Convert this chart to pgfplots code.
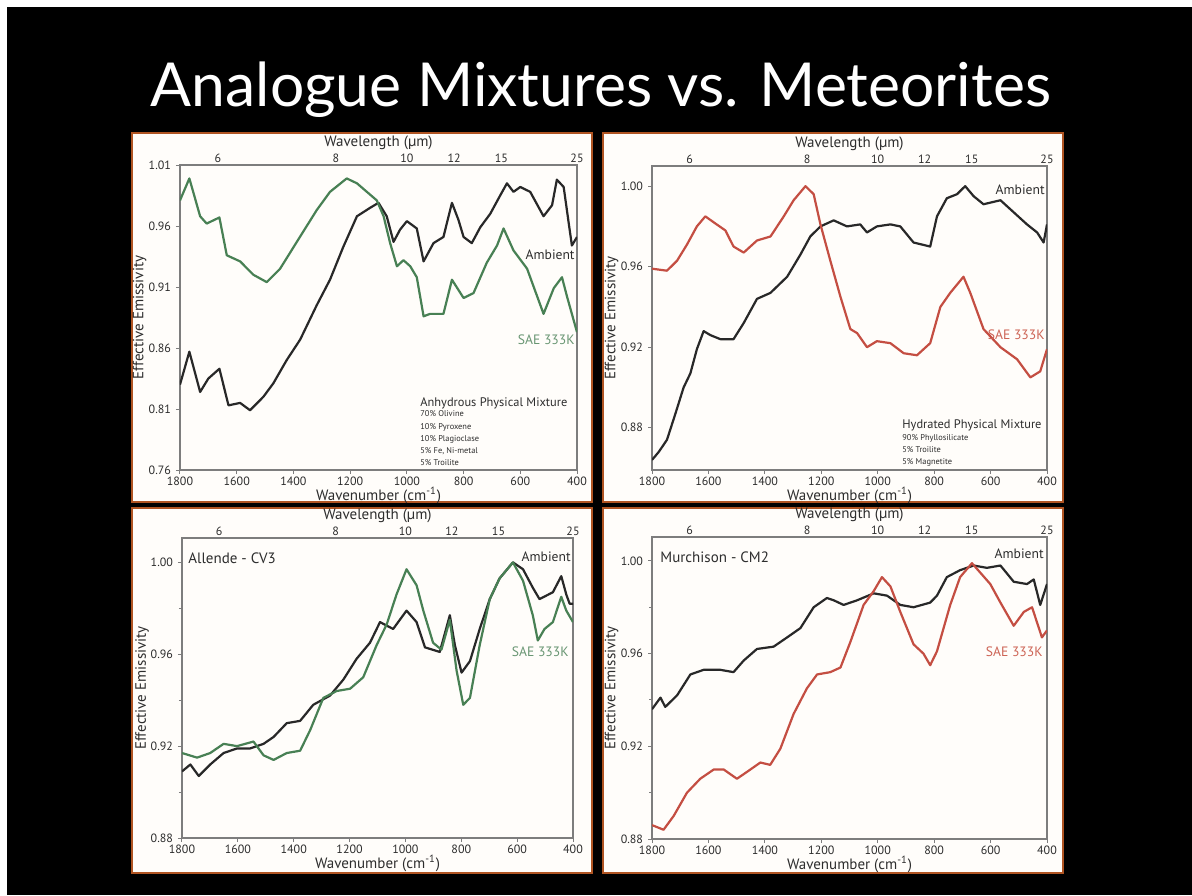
\documentclass[border=0pt]{standalone}
\usepackage{pgfplots}
\pgfplotsset{compat=1.18}
\usepackage{fontspec}
\setmainfont{PT Sans}
\newfontfamily\titlefont{Lato}
\definecolor{bord}{RGB}{176,84,34}
\definecolor{dk}{RGB}{40,40,40}
\definecolor{gr}{RGB}{72,128,84}
\definecolor{grl}{RGB}{105,150,115}
\definecolor{rd}{RGB}{196,78,66}
\definecolor{rdl}{RGB}{205,100,85}
\definecolor{axc}{RGB}{125,125,125}
\definecolor{txt}{RGB}{45,45,45}
\definecolor{paper}{RGB}{255,253,250}
\pgfplotsset{
 panel/.style={scale only axis, x dir=reverse, xmin=400, xmax=1800,
  xtick={400,600,...,1800}, xtick pos=lower, ytick pos=left,
  tick align=outside, major tick length=2pt, minor tick length=1.5pt,
  axis line style={axc, line width=0.6pt}, tick style={axc, line width=0.5pt},
  ticklabel style={font=\fontsize{6}{6.5}\selectfont, text=txt},
  /pgf/number format/assume math mode=true,
  xticklabel style={/pgf/number format/1000 sep={}, yshift=2pt},
  yticklabel style={/pgf/number format/fixed, /pgf/number format/fixed zerofill, /pgf/number format/precision=2, xshift=1pt},
  xlabel={Wavenumber (cm\textsuperscript{-1})}, ylabel={Effective Emissivity},
  every axis x label/.style={at={(axis description cs:0.5,0)}, anchor=center, yshift=-12.5pt, font=\fontsize{7.5}{8}\selectfont, text=txt},
  every axis y label/.style={at={(axis description cs:-0.102,0.5)}, anchor=center, rotate=90, font=\fontsize{7.5}{8}\selectfont, text=txt},
  every axis plot/.append style={line width=1.1pt, line join=round},
 },
 topax/.style={scale only axis, x dir=reverse, xmin=400, xmax=1800, ymin=0, ymax=1,
  axis x line*=top, axis y line=none, axis line style={draw=none},
  xtick={1666.667,1250,1000,833.333,666.667,400}, xticklabels={6,8,10,12,15,25},
  tick align=outside, major tick length=0pt, tick style={draw=none},
  ticklabel style={font=\fontsize{6}{6.5}\selectfont, text=txt},
  xticklabel style={yshift=-2.5pt},
  xlabel={Wavelength (µm)},
  every axis x label/.style={at={(axis description cs:0.5,1)}, anchor=center, yshift=11pt, font=\fontsize{7.5}{8}\selectfont, text=txt},
 },
}
\begin{document}
\begin{tikzpicture}
\begin{scope}[x=0.5pt,y=-0.5pt]
\useasboundingbox (0,0) rectangle (1192,895);
\fill[white] (0,0) rectangle (1192,895);
\fill[black] (7,7) rectangle (1192,895);
\foreach \a/\b/\c/\d in {132/133/592/502, 603/133/1063/502, 132/508/592/873, 603/508/1063/873}
  \filldraw[fill=paper, draw=bord, line width=1.2pt] (\a,\b) rectangle (\c,\d);
\node[anchor=base, text=white, inner sep=0] at (601,106) {\titlefont\fontsize{30.3}{31}\selectfont Analogue Mixtures vs. Meteorites};
\end{scope}

% Panel 1
\begin{axis}[panel, at={(90pt,-235pt)}, anchor=south west, width=198.5pt, height=152.5pt,
  ymin=0.76, ymax=1.01, ytick={0.76,0.81,...,1.02}]
\addplot[dk] coordinates {(1800,0.830)(1767,0.857)(1729,0.824)(1700,0.835)(1661,0.843)(1629,0.813)(1588,0.815)(1553,0.809)(1506,0.820)(1471,0.831)(1424,0.850)(1376,0.867)(1318,0.895)(1271,0.916)(1224,0.943)(1176,0.968)(1129,0.975)(1100,0.979)(1071,0.968)(1047,0.947)(1024,0.957)(1000,0.964)(965,0.958)(941,0.931)(906,0.946)(871,0.951)(841,0.979)(818,0.965)(800,0.951)(771,0.946)(741,0.959)(706,0.970)(671,0.985)(647,0.995)(624,0.988)(600,0.992)(565,0.988)(518,0.968)(488,0.977)(471,0.998)(447,0.992)(429,0.962)(418,0.944)(400,0.951)};
\addplot[gr] coordinates {(1800,0.981)(1767,0.999)(1729,0.968)(1706,0.962)(1661,0.967)(1635,0.936)(1588,0.931)(1541,0.920)(1494,0.914)(1447,0.925)(1388,0.947)(1318,0.973)(1271,0.988)(1212,0.999)(1176,0.995)(1141,0.988)(1106,0.981)(1082,0.968)(1059,0.946)(1035,0.927)(1012,0.932)(988,0.927)(965,0.918)(941,0.886)(918,0.888)(871,0.888)(841,0.916)(800,0.901)(765,0.905)(718,0.930)(682,0.944)(659,0.958)(624,0.940)(576,0.925)(518,0.888)(482,0.909)(453,0.918)(435,0.902)(400,0.873)};
\end{axis}
\begin{axis}[topax, at={(90pt,-235pt)}, anchor=south west, width=198.5pt, height=152.5pt]
\end{axis}

% Panel 2
\begin{axis}[panel, at={(326pt,-235pt)}, anchor=south west, width=197.5pt, height=152pt,
  ymin=0.859, ymax=1.010, ytick={0.88,0.92,0.96,1.00}]
\addplot[dk] coordinates {(1800,0.864)(1776,0.868)(1747,0.874)(1717,0.887)(1688,0.900)(1664,0.907)(1641,0.919)(1617,0.928)(1593,0.926)(1558,0.924)(1511,0.924)(1475,0.932)(1428,0.944)(1380,0.947)(1321,0.955)(1274,0.966)(1239,0.975)(1203,0.980)(1156,0.983)(1109,0.980)(1062,0.981)(1038,0.977)(1003,0.980)(955,0.981)(920,0.980)(873,0.972)(814,0.970)(790,0.985)(755,0.994)(719,0.996)(690,1.000)(660,0.995)(625,0.991)(565,0.993)(518,0.987)(471,0.981)(435,0.977)(412,0.972)(400,0.981)};
\addplot[rd] coordinates {(1800,0.959)(1747,0.958)(1711,0.963)(1676,0.971)(1641,0.980)(1611,0.985)(1581,0.982)(1540,0.978)(1511,0.970)(1475,0.967)(1428,0.973)(1380,0.975)(1333,0.985)(1298,0.993)(1256,1.000)(1227,0.996)(1203,0.981)(1168,0.963)(1132,0.945)(1097,0.929)(1073,0.927)(1038,0.920)(1003,0.923)(955,0.922)(908,0.917)(861,0.916)(814,0.922)(778,0.940)(743,0.947)(696,0.955)(672,0.947)(625,0.929)(565,0.920)(506,0.914)(459,0.905)(424,0.908)(400,0.919)};
\end{axis}
\begin{axis}[topax, at={(326pt,-235pt)}, anchor=south west, width=197.5pt, height=152pt]
\end{axis}

% Panel 3
\begin{axis}[panel, at={(91pt,-419pt)}, anchor=south west, width=195.5pt, height=150pt,
  ymin=0.88, ymax=1.0106, ytick={0.88,0.92,0.96,1.00}, minor ytick={0.90,0.94,0.98}]
\addplot[dk] coordinates {(1800,0.909)(1770,0.912)(1740,0.907)(1699,0.912)(1651,0.917)(1603,0.919)(1556,0.919)(1508,0.921)(1472,0.924)(1425,0.930)(1377,0.931)(1330,0.938)(1270,0.942)(1222,0.949)(1175,0.958)(1127,0.965)(1091,0.974)(1044,0.971)(996,0.979)(960,0.974)(930,0.963)(877,0.961)(841,0.977)(823,0.964)(799,0.952)(769,0.957)(734,0.971)(698,0.984)(663,0.993)(615,1.000)(579,0.997)(544,0.989)(520,0.984)(472,0.987)(442,0.994)(424,0.986)(412,0.982)(400,0.982)};
\addplot[gr] coordinates {(1800,0.917)(1746,0.915)(1699,0.917)(1651,0.921)(1603,0.920)(1544,0.922)(1508,0.916)(1472,0.914)(1425,0.917)(1377,0.918)(1341,0.927)(1294,0.941)(1246,0.944)(1198,0.945)(1151,0.950)(1103,0.964)(1067,0.973)(1032,0.986)(996,0.997)(960,0.990)(936,0.979)(901,0.965)(871,0.962)(841,0.975)(817,0.953)(793,0.938)(769,0.941)(734,0.964)(698,0.984)(663,0.993)(615,1.000)(579,0.992)(544,0.977)(526,0.966)(502,0.971)(472,0.974)(442,0.985)(424,0.979)(400,0.974)};
\end{axis}
\begin{axis}[topax, at={(91pt,-419pt)}, anchor=south west, width=195.5pt, height=150pt]
\end{axis}

% Panel 4
\begin{axis}[panel, at={(326pt,-419.5pt)}, anchor=south west, width=197.5pt, height=151pt,
  ymin=0.88, ymax=1.0103, ytick={0.88,0.92,0.96,1.00}, minor ytick={0.90,0.94,0.98}]
\addplot[dk] coordinates {(1800,0.936)(1770,0.941)(1753,0.937)(1711,0.942)(1664,0.951)(1617,0.953)(1558,0.953)(1511,0.952)(1475,0.957)(1428,0.962)(1369,0.963)(1321,0.967)(1274,0.971)(1227,0.980)(1180,0.984)(1156,0.983)(1121,0.981)(1073,0.983)(1014,0.986)(967,0.985)(920,0.981)(873,0.980)(814,0.982)(790,0.985)(755,0.993)(708,0.996)(660,0.998)(613,0.997)(565,0.998)(518,0.991)(471,0.990)(447,0.992)(424,0.981)(400,0.990)};
\addplot[rd] coordinates {(1800,0.886)(1759,0.884)(1723,0.890)(1676,0.900)(1629,0.906)(1581,0.910)(1546,0.910)(1499,0.906)(1463,0.909)(1416,0.913)(1381,0.912)(1345,0.919)(1298,0.934)(1251,0.945)(1215,0.951)(1168,0.952)(1132,0.954)(1097,0.965)(1050,0.981)(1014,0.987)(985,0.993)(955,0.989)(920,0.978)(873,0.964)(838,0.960)(814,0.955)(790,0.961)(743,0.981)(708,0.993)(666,0.999)(637,0.995)(601,0.990)(565,0.982)(518,0.972)(482,0.978)(453,0.980)(418,0.967)(400,0.970)};
\end{axis}
\begin{axis}[topax, at={(326pt,-419.5pt)}, anchor=south west, width=197.5pt, height=151pt]
\end{axis}

\begin{scope}[x=0.5pt,y=-0.5pt, every node/.style={inner sep=0, text=txt}]
\def\big{\fontsize{6.8}{7}\selectfont}
\def\mid{\fontsize{6.2}{7}\selectfont}
\def\sm{\fontsize{4.2}{5}\selectfont}
% panel 1
\node[anchor=east] at (575,255) {\big Ambient};
\node[anchor=east, text=grl] at (575,340) {\big SAE 333K};
\node[anchor=base west] at (420,406) {\mid Anhydrous Physical Mixture};
\node[anchor=base west] at (420,416.5) {\sm 70\% Olivine};
\node[anchor=base west] at (420,429) {\sm 10\% Pyroxene};
\node[anchor=base west] at (420,441) {\sm 10\% Plagioclase};
\node[anchor=base west] at (420,453) {\sm 5\% Fe, Ni-metal};
\node[anchor=base west] at (420,465) {\sm 5\% Troilite};
% panel 2
\node[anchor=east] at (1045,190) {\big Ambient};
\node[anchor=east, text=rdl] at (1045,335) {\big SAE 333K};
\node[anchor=base west] at (902,428) {\mid Hydrated Physical Mixture};
\node[anchor=base west] at (902,440) {\sm 90\% Phyllosilicate};
\node[anchor=base west] at (902,452) {\sm 5\% Troilite};
\node[anchor=base west] at (902,464) {\sm 5\% Magnetite};
% panel 3
\node[anchor=west] at (188,558) {\fontsize{7.5}{8}\selectfont Allende - CV3};
\node[anchor=east] at (571,557) {\big Ambient};
\node[anchor=east, text=grl] at (569,652) {\big SAE 333K};
% panel 4
\node[anchor=west] at (660,557) {\fontsize{7.5}{8}\selectfont Murchison - CM2};
\node[anchor=east] at (1044,554) {\big Ambient};
\node[anchor=east, text=rdl] at (1043,652) {\big SAE 333K};
\end{scope}
\end{tikzpicture}
\end{document}
